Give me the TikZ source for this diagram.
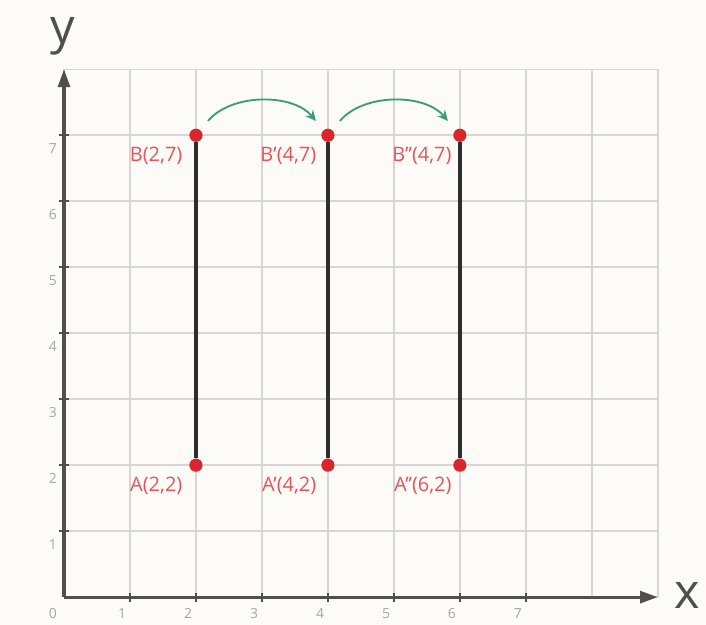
\documentclass[tikz,border=0pt]{standalone}
\usepackage{fontspec}
\setmainfont{Open Sans}
\usetikzlibrary{arrows.meta,positioning}
\definecolor{paper}{HTML}{FDFBF8}
\definecolor{gridgray}{HTML}{D8D5D4}
\definecolor{axisgray}{HTML}{4F4F4F}
\definecolor{ticknum}{HTML}{A8A6A6}
\definecolor{segink}{HTML}{2E2E2E}
\definecolor{ptred}{HTML}{D8262C}
\definecolor{tagred}{HTML}{E2555B}
\definecolor{hopgreen}{HTML}{3A9C7C}
\tikzset{
 gridline/.style={draw=gridgray,line width=.65pt},
 axis/.style={draw=axisgray,line width=1.3pt,-{Triangle[length=2.7mm,width=1.8mm]}},
 tick/.style={draw=axisgray,line width=.8pt},
 num/.style={font=\fontsize{6}{7}\selectfont,text=ticknum,inner sep=0pt},
 axname/.style={font=\fontsize{21}{24}\selectfont,text=axisgray,inner sep=0pt},
 dot/.style={circle,fill=ptred,minimum size=2mm,inner sep=0pt},
 tag/.style={font=\fontsize{8.6}{10}\selectfont,text=tagred,inner sep=0pt},
 segment/.style={draw=segink,line width=1.7pt},
 hop/.style={-{Stealth[length=1.6mm,width=1.5mm]},draw=hopgreen,line width=.8pt,shorten <=5pt,shorten >=5pt},
}

\begin{document}
\begin{tikzpicture}

\fill[paper] (-0.97,-0.42) rectangle (9.73,9.05);
\useasboundingbox (-0.97,-0.42) rectangle (9.73,9.05);

% grid and axes
\draw[gridline] (0,0) grid (9,8);
\draw[axis] (0,0) -- (9,0);
\draw[axis] (0,0) -- (0,8);
\foreach \i in {1,...,7} {
  \draw[tick] (\i,-.07) -- (\i,.07);
  \draw[tick] (-.07,\i) -- (.07,\i);
  \node[num] at (\i-.12,-.25) {\i};
  \node[num] at (-.17,\i-.2) {\i};
}
\node[num] at (-.17,-.25) {0};
\node[axname] (xname) at (9.45,.02) {x};
\node[axname] (yname) at (-.02,8.5) {y};

% points
\node[dot] (pA) at (2,2) {};
\node[dot] (pB) at (2,7) {};
\node[dot] (pA1) at (4,2) {};
\node[dot] (pB1) at (4,7) {};
\node[dot] (pA2) at (6,2) {};
\node[dot] (pB2) at (6,7) {};

\draw[segment] (pA) -- (pB);
\draw[segment] (pA1) -- (pB1);
\draw[segment] (pA2) -- (pB2);

\node[tag,below left=1.7mm and 2mm of pB.center,anchor=north east] (tB) {B(2,7)};
\node[tag,below left=1.7mm and 1.7mm of pB1.center,anchor=north east] (tB1) {B’(4,7)};
\node[tag,below left=1.7mm and 1.2mm of pB2.center,anchor=north east] (tB2) {B’’(4,7)};
\node[tag,below left=1.7mm and 2mm of pA.center,anchor=north east] (tA) {A(2,2)};
\node[tag,below left=1.7mm and 1.7mm of pA1.center,anchor=north east] (tA1) {A’(4,2)};
\node[tag,below left=1.7mm and 1.2mm of pA2.center,anchor=north east] (tA2) {A’’(6,2)};

\draw[hop] (pB) to[out=50,in=130] (pB1);
\draw[hop] (pB1) to[out=50,in=130] (pB2);

\end{tikzpicture}
\end{document}
